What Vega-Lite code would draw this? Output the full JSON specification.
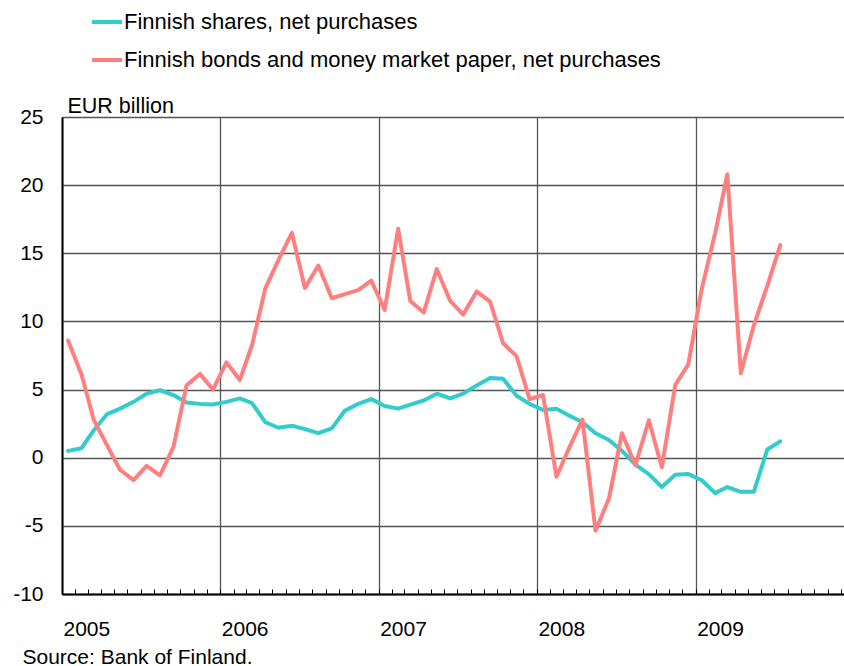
{
  "$schema": "https://vega.github.io/schema/vega-lite/v6.json",
  "width": 782,
  "height": 477,
  "autosize": {"type": "none"},
  "padding": {"left": 62, "top": 117, "right": 0, "bottom": 72},
  "background": "white",
  "config": {
    "font": "Liberation Sans",
    "view": {"stroke": null},
    "axis": {"labelFont": "Liberation Sans", "titleFont": "Liberation Sans", "labelColor": "black", "titleColor": "black"},
    "legend": {"labelFont": "Liberation Sans", "labelColor": "black"}
  },
  "data": {
    "values": [
      {"date": "2005-01-15", "s": "A", "v": 0.5},
      {"date": "2005-02-15", "s": "A", "v": 0.7},
      {"date": "2005-03-15", "s": "A", "v": 2.0},
      {"date": "2005-04-15", "s": "A", "v": 3.2},
      {"date": "2005-05-15", "s": "A", "v": 3.6},
      {"date": "2005-06-15", "s": "A", "v": 4.1},
      {"date": "2005-07-15", "s": "A", "v": 4.7},
      {"date": "2005-08-15", "s": "A", "v": 4.95},
      {"date": "2005-09-15", "s": "A", "v": 4.6},
      {"date": "2005-10-15", "s": "A", "v": 4.05},
      {"date": "2005-11-15", "s": "A", "v": 3.95},
      {"date": "2005-12-15", "s": "A", "v": 3.9},
      {"date": "2006-01-15", "s": "A", "v": 4.1},
      {"date": "2006-02-15", "s": "A", "v": 4.35},
      {"date": "2006-03-15", "s": "A", "v": 4.0},
      {"date": "2006-04-15", "s": "A", "v": 2.6},
      {"date": "2006-05-15", "s": "A", "v": 2.2},
      {"date": "2006-06-15", "s": "A", "v": 2.35},
      {"date": "2006-07-15", "s": "A", "v": 2.1},
      {"date": "2006-08-15", "s": "A", "v": 1.8},
      {"date": "2006-09-15", "s": "A", "v": 2.15},
      {"date": "2006-10-15", "s": "A", "v": 3.45},
      {"date": "2006-11-15", "s": "A", "v": 3.95},
      {"date": "2006-12-15", "s": "A", "v": 4.3},
      {"date": "2007-01-15", "s": "A", "v": 3.8},
      {"date": "2007-02-15", "s": "A", "v": 3.6},
      {"date": "2007-03-15", "s": "A", "v": 3.9},
      {"date": "2007-04-15", "s": "A", "v": 4.2},
      {"date": "2007-05-15", "s": "A", "v": 4.7},
      {"date": "2007-06-15", "s": "A", "v": 4.35},
      {"date": "2007-07-15", "s": "A", "v": 4.7},
      {"date": "2007-08-15", "s": "A", "v": 5.3},
      {"date": "2007-09-15", "s": "A", "v": 5.85},
      {"date": "2007-10-15", "s": "A", "v": 5.8},
      {"date": "2007-11-15", "s": "A", "v": 4.55},
      {"date": "2007-12-15", "s": "A", "v": 3.95},
      {"date": "2008-01-15", "s": "A", "v": 3.5},
      {"date": "2008-02-15", "s": "A", "v": 3.6},
      {"date": "2008-03-15", "s": "A", "v": 3.1},
      {"date": "2008-04-15", "s": "A", "v": 2.6},
      {"date": "2008-05-15", "s": "A", "v": 1.8},
      {"date": "2008-06-15", "s": "A", "v": 1.3},
      {"date": "2008-07-15", "s": "A", "v": 0.5},
      {"date": "2008-08-15", "s": "A", "v": -0.5},
      {"date": "2008-09-15", "s": "A", "v": -1.2},
      {"date": "2008-10-15", "s": "A", "v": -2.15},
      {"date": "2008-11-15", "s": "A", "v": -1.25},
      {"date": "2008-12-15", "s": "A", "v": -1.2},
      {"date": "2009-01-15", "s": "A", "v": -1.65},
      {"date": "2009-02-15", "s": "A", "v": -2.6},
      {"date": "2009-03-15", "s": "A", "v": -2.15},
      {"date": "2009-04-15", "s": "A", "v": -2.5},
      {"date": "2009-05-15", "s": "A", "v": -2.5},
      {"date": "2009-06-15", "s": "A", "v": 0.6},
      {"date": "2009-07-15", "s": "A", "v": 1.2},
      {"date": "2005-01-15", "s": "B", "v": 8.6},
      {"date": "2005-02-15", "s": "B", "v": 6.1},
      {"date": "2005-03-15", "s": "B", "v": 2.8},
      {"date": "2005-04-15", "s": "B", "v": 0.9},
      {"date": "2005-05-15", "s": "B", "v": -0.9},
      {"date": "2005-06-15", "s": "B", "v": -1.65},
      {"date": "2005-07-15", "s": "B", "v": -0.6},
      {"date": "2005-08-15", "s": "B", "v": -1.3},
      {"date": "2005-09-15", "s": "B", "v": 0.8},
      {"date": "2005-10-15", "s": "B", "v": 5.3},
      {"date": "2005-11-15", "s": "B", "v": 6.15},
      {"date": "2005-12-15", "s": "B", "v": 5.0},
      {"date": "2006-01-15", "s": "B", "v": 7.0},
      {"date": "2006-02-15", "s": "B", "v": 5.7},
      {"date": "2006-03-15", "s": "B", "v": 8.25},
      {"date": "2006-04-15", "s": "B", "v": 12.45},
      {"date": "2006-05-15", "s": "B", "v": 14.5},
      {"date": "2006-06-15", "s": "B", "v": 16.5},
      {"date": "2006-07-15", "s": "B", "v": 12.45},
      {"date": "2006-08-15", "s": "B", "v": 14.1},
      {"date": "2006-09-15", "s": "B", "v": 11.7},
      {"date": "2006-10-15", "s": "B", "v": 12.0},
      {"date": "2006-11-15", "s": "B", "v": 12.3},
      {"date": "2006-12-15", "s": "B", "v": 13.0},
      {"date": "2007-01-15", "s": "B", "v": 10.85},
      {"date": "2007-02-15", "s": "B", "v": 16.8},
      {"date": "2007-03-15", "s": "B", "v": 11.5},
      {"date": "2007-04-15", "s": "B", "v": 10.65},
      {"date": "2007-05-15", "s": "B", "v": 13.85},
      {"date": "2007-06-15", "s": "B", "v": 11.5},
      {"date": "2007-07-15", "s": "B", "v": 10.5},
      {"date": "2007-08-15", "s": "B", "v": 12.2},
      {"date": "2007-09-15", "s": "B", "v": 11.45},
      {"date": "2007-10-15", "s": "B", "v": 8.4},
      {"date": "2007-11-15", "s": "B", "v": 7.45},
      {"date": "2007-12-15", "s": "B", "v": 4.3},
      {"date": "2008-01-15", "s": "B", "v": 4.6},
      {"date": "2008-02-15", "s": "B", "v": -1.4},
      {"date": "2008-03-15", "s": "B", "v": 0.7},
      {"date": "2008-04-15", "s": "B", "v": 2.8},
      {"date": "2008-05-15", "s": "B", "v": -5.35},
      {"date": "2008-06-15", "s": "B", "v": -3.0},
      {"date": "2008-07-15", "s": "B", "v": 1.8},
      {"date": "2008-08-15", "s": "B", "v": -0.55},
      {"date": "2008-09-15", "s": "B", "v": 2.75},
      {"date": "2008-10-15", "s": "B", "v": -0.7},
      {"date": "2008-11-15", "s": "B", "v": 5.35},
      {"date": "2008-12-15", "s": "B", "v": 6.85},
      {"date": "2009-01-15", "s": "B", "v": 12.4},
      {"date": "2009-02-15", "s": "B", "v": 16.5},
      {"date": "2009-03-15", "s": "B", "v": 20.8},
      {"date": "2009-04-15", "s": "B", "v": 6.2},
      {"date": "2009-05-15", "s": "B", "v": 9.7},
      {"date": "2009-06-15", "s": "B", "v": 12.6},
      {"date": "2009-07-15", "s": "B", "v": 15.6}
    ]
  },
  "mark": {"type": "line", "strokeWidth": 4, "strokeCap": "round", "strokeJoin": "round"},
  "encoding": {
    "x": {
      "field": "date",
      "type": "temporal",
      "scale": {"type": "utc", "domain": ["2005-01-01", "2010-01-01"], "range": [0, 792]},
      "axis": {
        "tickCount": {"interval": "month", "step": 1},
        "labelExpr": "utcmonth(datum.value) === 0 && utcyear(datum.value) < 2010 ? utcFormat(datum.value, '%Y') : ''",
        "labelOverlap": false,
        "labelFlush": false,
        "labelBound": false,
        "labelAlign": "left",
        "labelBaseline": "alphabetic",
        "labelOffset": 1,
        "labelPadding": 46,
        "labelFontSize": 21,
        "tickSize": -5,
        "tickColor": "black",
        "tickWidth": 1,
        "grid": true,
        "gridColor": "#555",
        "gridWidth": 1.3,
        "gridOpacity": {"condition": {"test": "utcmonth(datum.value) === 0", "value": 1}, "value": 0},
        "domainColor": "black",
        "domainWidth": 2,
        "title": "Source: Bank of Finland.",
        "titleFontSize": 21,
        "titleFontWeight": "normal",
        "titleAnchor": null,
        "titleAlign": "left",
        "titleBaseline": "alphabetic",
        "titleX": -40,
        "titleY": 69
      }
    },
    "y": {
      "field": "v",
      "type": "quantitative",
      "scale": {"domain": [-10, 25], "nice": false, "zero": false},
      "axis": {
        "values": [-10, -5, 0, 5, 10, 15, 20, 25],
        "labelExpr": "datum.value < 0 ? '-' + abs(datum.value) : '' + datum.value",
        "grid": true,
        "gridColor": "#555",
        "gridWidth": 1.3,
        "ticks": false,
        "labelPadding": 19,
        "labelFontSize": 21,
        "domainColor": "black",
        "domainWidth": 2,
        "title": "EUR billion",
        "titleAngle": 0,
        "titleAlign": "left",
        "titleBaseline": "alphabetic",
        "titleFontSize": 21.5,
        "titleFontWeight": "normal",
        "titleX": 5,
        "titleY": -5,
        "titleAnchor": null
      }
    },
    "color": {
      "field": "s",
      "type": "nominal",
      "scale": {"domain": ["A", "B"], "range": ["#33CCCC", "#FF7F7F"]},
      "legend": {
        "orient": "none",
        "legendX": 28,
        "legendY": -112,
        "title": null,
        "padding": 0,
        "symbolType": "stroke",
        "symbolSize": 900,
        "symbolStrokeWidth": 4,
        "labelFontSize": 22,
        "labelOffset": 0,
        "labelLimit": 1000,
        "rowPadding": 10,
        "labelExpr": "datum.value === 'A' ? 'Finnish shares, net purchases' : 'Finnish bonds and money market paper, net purchases'"
      }
    }
  }
}
